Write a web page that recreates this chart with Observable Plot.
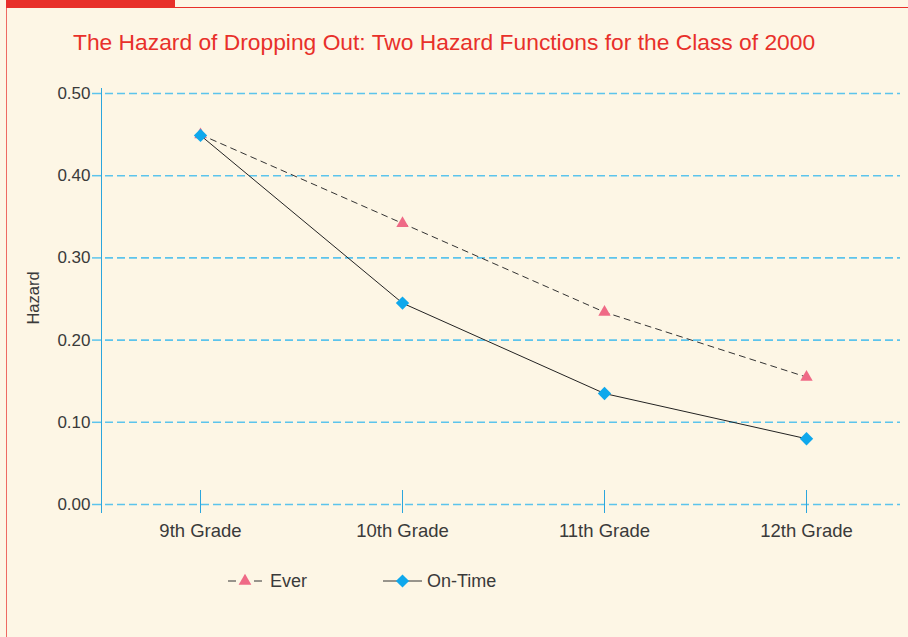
<!DOCTYPE html>
<html><head><meta charset="utf-8">
<script src="https://cdn.jsdelivr.net/npm/d3@7"></script>
<script src="https://cdn.jsdelivr.net/npm/@observablehq/plot@0.6"></script>
<style>
html,body{margin:0;padding:0;background:#fdf6e5;}
#page{position:relative;width:908px;height:637px;overflow:hidden;background:#fdf6e5;font-family:"Liberation Sans",Arial,sans-serif;}
#bar{position:absolute;left:6px;top:0;width:169px;height:8px;background:#e8302a;}
#topline{position:absolute;left:175px;top:7px;right:0;height:1px;background:#e8302a;}
#leftline{position:absolute;left:6px;top:8px;width:1px;bottom:0;background:#ee6a62;}
#title{position:absolute;left:73px;top:29px;font-size:22.8px;color:#e8302a;white-space:nowrap;}
#chart{position:absolute;left:0;top:60px;}
#ylabel{position:absolute;left:33px;top:298px;transform:translate(-50%,-50%) rotate(-90deg);font-size:16.5px;color:#3a3a3a;white-space:nowrap;}
#legend{position:absolute;top:569px;left:0;width:908px;height:24px;font-size:18px;color:#3a3a3a;}
.item{position:absolute;top:0;display:flex;align-items:center;height:24px;}
.item svg{display:block;}
</style></head>
<body><div id="page">
<div id="bar"></div><div id="topline"></div><div id="leftline"></div>
<div id="title">The Hazard of Dropping Out: Two Hazard Functions for the Class of 2000</div>
<div id="chart"></div>
<div id="ylabel">Hazard</div>
<div id="legend"></div>
</div>
<script>
const grades = ["9th Grade", "10th Grade", "11th Grade", "12th Grade"];
const everValues = [0.450, 0.342, 0.234, 0.155];
const onTimeValues = [0.449, 0.245, 0.135, 0.080];
const yTicks = [0, 0.1, 0.2, 0.3, 0.4, 0.5];
const seriesNames = ["Ever", "On-Time"];

const ever = grades.map((g, i) => ({grade: g, value: everValues[i]}));
const onTime = grades.map((g, i) => ({grade: g, value: onTimeValues[i]}));

const gridBlue = "#5cc4ec";
const axisBlue = "#2ba6dd";
const pink = "#ef6a86";
const diamondBlue = "#0fa8ec";

const chart = Plot.plot({
  width: 908,
  height: 480,
  marginTop: 28,
  marginBottom: 28,
  marginLeft: 101,
  marginRight: 8,
  style: {background: "transparent", fontFamily: "Liberation Sans, Arial, sans-serif", fontSize: "17px", color: "#3a3a3a"},
  x: {type: "point", domain: grades, range: [200, 806], padding: 0},
  y: {domain: [0, 0.5], insetTop: 5, insetBottom: 8},
  marks: [
    Plot.ruleY(yTicks, {y: d => d, stroke: gridBlue, strokeDasharray: "8,4", strokeWidth: 1.6, insetLeft: 4}),
    Plot.axisY({ticks: yTicks, tickFormat: d3.format(".2f"), tickSize: 9, tickPadding: 2, stroke: gridBlue, strokeWidth: 1.5, fill: "#3a3a3a", fontSize: 17, label: null}),
    Plot.frame({anchor: "left", stroke: axisBlue}),
    Plot.ruleX(grades, {x: d => d, y1: 0, y2: 0, insetTop: -14, insetBottom: -9, stroke: axisBlue}),
    Plot.axisX({tickSize: 0, tickPadding: 11, fontSize: 18.5, fill: "#3a3a3a", label: null}),
    Plot.line(ever, {x: "grade", y: "value", stroke: "#333", strokeWidth: 1, strokeDasharray: "6,5"}),
    Plot.dot(ever, {x: "grade", y: "value", symbol: "triangle", r: 4.6, fill: pink, stroke: "none"}),
    Plot.line(onTime, {x: "grade", y: "value", stroke: "#222", strokeWidth: 1}),
    Plot.dot(onTime, {x: "grade", y: "value", symbol: "diamond2", r: 6, fill: diamondBlue, stroke: "none"})
  ]
});
document.getElementById("chart").appendChild(chart);

// legend
const legend = document.getElementById("legend");
function addItem(left, name, dashed, sym, color, w) {
  const div = document.createElement("div");
  div.className = "item";
  div.style.left = left + "px";
  const svg = d3.create("svg").attr("width", w).attr("height", 24);
  svg.append("line").attr("x1", 0).attr("x2", w).attr("y1", 12).attr("y2", 12)
    .attr("stroke", "#333").attr("stroke-width", 1)
    .attr("stroke-dasharray", dashed ? "8,18" : null);
  svg.append("path").attr("transform", `translate(${w/2},12)`)
    .attr("d", d3.symbol(sym, sym === d3.symbolTriangle ? 70 : 110)()).attr("fill", color);
  div.appendChild(svg.node());
  const span = document.createElement("span");
  span.textContent = name;
  span.style.marginLeft = dashed ? "8px" : "5px";
  div.appendChild(span);
  legend.appendChild(div);
}
addItem(228, seriesNames[0], true, d3.symbolTriangle, pink, 34);
addItem(383, seriesNames[1], false, d3.symbolDiamond2, diamondBlue, 39);
</script>
</body></html>
